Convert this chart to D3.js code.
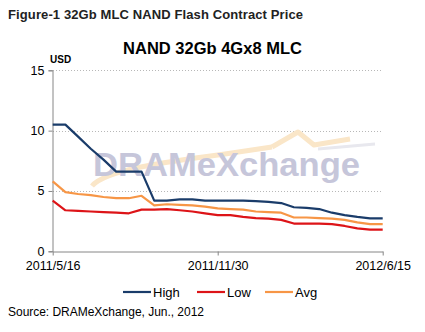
<!DOCTYPE html>
<html><head><meta charset="utf-8">
<script src="https://cdn.jsdelivr.net/npm/d3@7"></script>
<style>
html,body{margin:0;padding:0;background:#fff;}
svg{display:block;font-family:Arial,"Liberation Sans",sans-serif;}
</style></head>
<body><svg id="c" width="425" height="332"></svg>
<script>
const dates = ["2011/5/16","2011/5/31","2011/6/15","2011/6/30","2011/7/15","2011/7/31","2011/8/15","2011/8/31","2011/9/15","2011/9/30","2011/10/15","2011/10/31","2011/11/15","2011/11/30","2011/12/15","2011/12/31","2012/1/15","2012/1/31","2012/2/15","2012/2/29","2012/3/15","2012/3/31","2012/4/15","2012/4/30","2012/5/15","2012/5/31","2012/6/15"];
const high = [10.5,10.5,9.5,8.5,7.6,6.6,6.6,6.6,4.2,4.2,4.3,4.3,4.2,4.2,4.2,4.2,4.15,4.1,4.0,3.65,3.6,3.5,3.2,3.0,2.85,2.73,2.73];
const low  = [4.2,3.4,3.35,3.3,3.25,3.2,3.15,3.45,3.45,3.5,3.4,3.3,3.15,3.0,3.0,2.85,2.75,2.7,2.6,2.3,2.3,2.3,2.25,2.1,1.9,1.8,1.8];
const avg  = [5.8,4.9,4.75,4.65,4.5,4.4,4.4,4.6,3.8,3.9,3.85,3.8,3.7,3.55,3.5,3.45,3.3,3.25,3.2,2.8,2.8,2.75,2.7,2.6,2.4,2.25,2.25];
const yTicks = [0,5,10,15];
const xTickLabels = ["2011/5/16","2011/11/30","2012/6/15"];
const seriesNames = ["High","Low","Avg"];
const colors = ["#1a3c6a","#dd1418","#f79646"];

const svg = d3.select("#c");
const x = d3.scalePoint().domain(dates).range([52.7, 382.7]);
const y = d3.scaleLinear().domain([0,15]).range([251.3, 70.3]);

// titles
svg.append("text").attr("x",8).attr("y",19).attr("font-size",13).attr("font-weight","bold").attr("fill","#222")
  .attr("textLength",295).text("Figure-1 32Gb MLC NAND Flash Contract Price");
svg.append("text").attr("x",212.5).attr("y",53.5).attr("text-anchor","middle").attr("font-size",16.5).attr("font-weight","bold").attr("fill","#000")
  .text("NAND 32Gb 4Gx8 MLC");
svg.append("text").attr("x",50).attr("y",62.5).attr("font-size",10).attr("font-weight","bold").attr("fill","#000").text("USD");

// gridlines
svg.append("g").selectAll("line").data(yTicks.filter(d=>d>0)).join("line")
  .attr("x1",53).attr("x2",383).attr("y1",d=>Math.round(y(d))+0.5).attr("y2",d=>Math.round(y(d))+0.5)
  .attr("stroke","#b8b8b8").attr("stroke-width",1).attr("stroke-dasharray","1,2");

// watermark
const wm = svg.append("g");
wm.append("path").attr("d","M92,186 C105,170 165,162 225,154 C245,151 258,149 272,147")
  .attr("fill","none").attr("stroke","#fae6c8").attr("stroke-width",5);
wm.append("path").attr("d","M272,147 L298,132 L314,145 L350,139")
  .attr("fill","none").attr("stroke","#fae6c8").attr("stroke-width",5).attr("stroke-linejoin","round");
wm.append("path").attr("d","M318,149 L375,144").attr("fill","none").attr("stroke","#e8e8ee").attr("stroke-width",3);
wm.append("text").attr("x",93).attr("y",175.5).attr("font-size",33).attr("font-weight","bold").attr("fill","#c6c6da")
  .attr("textLength",267).attr("lengthAdjust","spacingAndGlyphs").text("DRAMeXchange");

// y axis
const yAxis = d3.axisLeft(y).tickValues(yTicks).tickSize(4).tickPadding(4);
const gy = svg.append("g").attr("transform","translate(52.5,0)").call(yAxis);
gy.select(".domain").attr("stroke","#868686");
gy.selectAll(".tick line").attr("stroke","#868686");
gy.selectAll(".tick text").attr("font-size",12.5).attr("fill","#000").attr("font-family","Arial,'Liberation Sans',sans-serif");

// x axis
const xAxis = d3.axisBottom(x).tickValues(xTickLabels).tickSize(4).tickPadding(6).tickSizeOuter(0);
const gx = svg.append("g").attr("transform","translate(0,251.5)").call(xAxis);
gx.select(".domain").attr("stroke","#868686");
gx.selectAll(".tick line").attr("stroke","#868686");
gx.selectAll(".tick text").attr("font-size",12.5).attr("fill","#000").attr("font-family","Arial,'Liberation Sans',sans-serif");

// lines
const data = [high, low, avg];
const line = d3.line().x((d,i)=>x(dates[i])).y(d=>y(d));
[2,1,0].forEach(k=>{
  svg.append("path").datum(data[k]).attr("d",line).attr("fill","none").attr("stroke",colors[k])
    .attr("stroke-width",2.2).attr("stroke-linejoin","round");
});

// legend
const legX = [123,197,265];
const lg = svg.append("g");
seriesNames.forEach((n,i)=>{
  lg.append("line").attr("x1",legX[i]).attr("x2",legX[i]+28).attr("y1",292).attr("y2",292).attr("stroke",colors[i]).attr("stroke-width",2.2);
  lg.append("text").attr("x",legX[i]+30).attr("y",296.5).attr("font-size",13).attr("fill","#000").text(n);
});

// source
svg.append("text").attr("x",8).attr("y",316).attr("font-size",12).attr("fill","#000").attr("textLength",196).text("Source: DRAMeXchange, Jun., 2012");
</script></body></html>
